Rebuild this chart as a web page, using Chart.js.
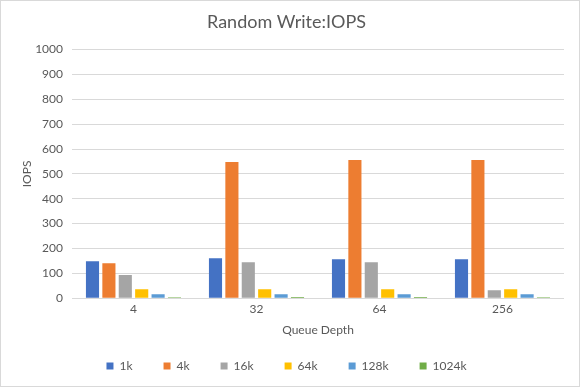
<!DOCTYPE html>
<html lang="en">
<head>
    <meta charset="UTF-8">
    <title>Random Write:IOPS</title>
    <script src="https://cdn.jsdelivr.net/npm/chart.js"></script>
    <style>
        html, body { margin: 0; padding: 0; background: #fff; }
        #wrap { width: 578px; height: 385px; border: 1px solid #d9d9d9; }
    </style>
</head>
<body>
    <div id="wrap"><canvas id="iopsChart" width="578" height="385"></canvas></div>

    <script>
        // Queue depths on the x axis
        const queueDepths = ['4', '32', '64', '256'];

        // Block sizes (one series each)
        const blockSizes = ['1k', '4k', '16k', '64k', '128k', '1024k'];
        const colors = ['#4472C4', '#ED7D31', '#A5A5A5', '#FFC000', '#5B9BD5', '#70AD47'];

        // IOPS
        const iops1k    = [149, 161, 157, 157];
        const iops4k    = [141, 548, 556, 556];
        const iops16k   = [93, 145, 145, 32];
        const iops64k   = [36, 36, 36, 36];
        const iops128k  = [16, 16, 16, 16];
        const iops1024k = [4, 5, 5, 4];

        const series = [iops1k, iops4k, iops16k, iops64k, iops128k, iops1024k];
        const gray = '#595959';
        const fontFamily = 'Lato, "Open Sans", sans-serif';

        new Chart(document.getElementById('iopsChart'), {
            type: 'bar',
            data: {
                labels: queueDepths,
                datasets: series.map((vals, i) => ({
                    label: blockSizes[i],
                    data: vals,
                    backgroundColor: colors[i],
                    categoryPercentage: 0.8,
                    barPercentage: 0.8
                }))
            },
            options: {
                responsive: false,
                animation: false,
                layout: { padding: { top: 8, right: 15, bottom: 4, left: 8 } },
                plugins: {
                    title: {
                        display: true,
                        text: 'Random Write:IOPS',
                        color: gray,
                        font: { family: fontFamily, size: 18, weight: 'normal' },
                        padding: { top: 2, bottom: 17 }
                    },
                    legend: {
                        position: 'bottom',
                        labels: {
                            color: gray,
                            boxWidth: 7,
                            boxHeight: 7,
                            padding: 31,
                            font: { family: fontFamily, size: 12 }
                        }
                    },
                    tooltip: { enabled: false }
                },
                scales: {
                    x: {
                        grid: { display: false, drawTicks: false },
                        border: { display: false },
                        ticks: { color: gray, padding: 4, font: { family: fontFamily, size: 12 } },
                        title: {
                            display: true,
                            text: 'Queue Depth',
                            color: gray,
                            padding: { top: 2, bottom: -8 },
                            font: { family: fontFamily, size: 12 }
                        }
                    },
                    y: {
                        min: 0,
                        max: 1000,
                        afterFit: scale => { scale.width = 63; },
                        ticks: {
                            stepSize: 100,
                            color: gray,
                            padding: 9,
                            font: { family: fontFamily, size: 12 },
                            callback: v => String(v)
                        },
                        grid: { color: '#d9d9d9', drawTicks: false },
                        border: { display: false },
                        title: {
                            display: true,
                            text: 'IOPS',
                            color: gray,
                            padding: { top: 11, bottom: 0 },
                            font: { family: fontFamily, size: 12 }
                        }
                    }
                }
            }
        });
    </script>
</body>
</html>
